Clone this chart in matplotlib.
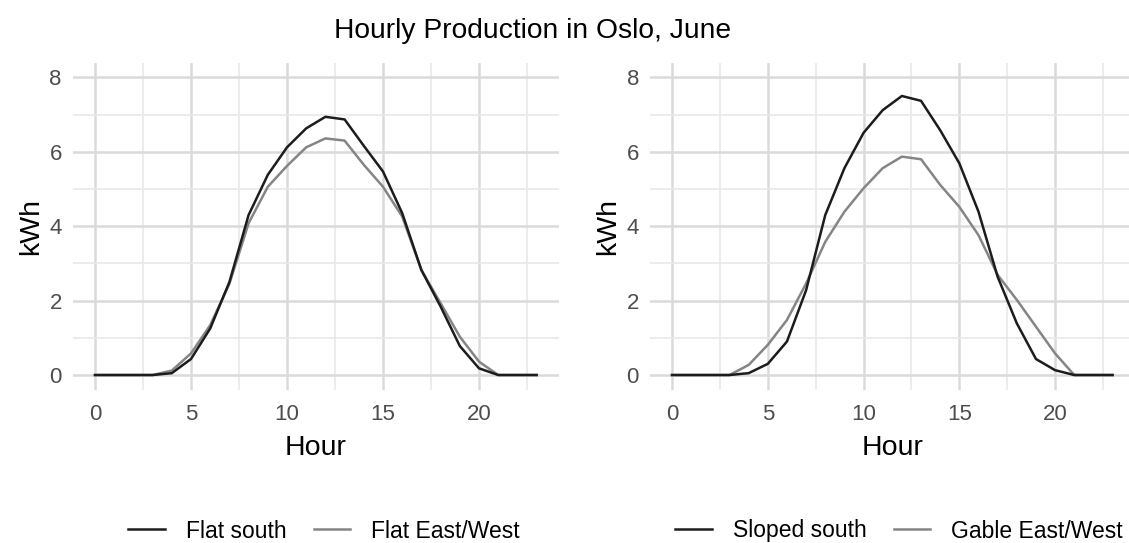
import matplotlib
matplotlib.use('Agg')
import matplotlib.pyplot as plt
from matplotlib.lines import Line2D
import numpy as np

plt.rcParams['font.family'] = ['Liberation Sans', 'DejaVu Sans']

hours = list(range(24))

# left panel: flat roofs
flat_south = [0, 0, 0, 0, 0.05, 0.43, 1.25, 2.5, 4.3, 5.38, 6.12, 6.63, 6.94, 6.87,
              6.16, 5.47, 4.35, 2.82, 1.84, 0.78, 0.18, 0, 0, 0]
flat_ew = [0, 0, 0, 0, 0.12, 0.58, 1.34, 2.45, 4.08, 5.06, 5.62, 6.12, 6.36, 6.3,
           5.65, 5.06, 4.26, 2.82, 1.93, 1.03, 0.36, 0, 0, 0]

# right panel: sloped / gable
sloped_south = [0, 0, 0, 0, 0.05, 0.3, 0.9, 2.28, 4.3, 5.56, 6.51, 7.12, 7.5, 7.37,
                6.58, 5.69, 4.39, 2.64, 1.39, 0.43, 0.13, 0, 0, 0]
gable_ew = [0, 0, 0, 0, 0.27, 0.81, 1.48, 2.46, 3.58, 4.39, 5.02, 5.56, 5.87, 5.8,
            5.11, 4.52, 3.76, 2.69, 2.02, 1.3, 0.58, 0, 0, 0]

title = 'Hourly Production in Oslo, June'
dark = '#1c1c1c'
light = '#858585'

W, H = 1129, 543
fig = plt.figure(figsize=(W / 100, H / 100), dpi=100)


def px_axes(left, right, top, bottom):
    return fig.add_axes([left / W, 1 - bottom / H, (right - left) / W, (bottom - top) / H])


def style_ax(ax):
    for s in ax.spines.values():
        s.set_visible(False)
    ax.set_xlim(-1.15, 24.15)
    ax.set_ylim(-0.4, 8.4)
    ax.set_xticks([0, 5, 10, 15, 20])
    ax.set_xticks([2.5, 7.5, 12.5, 17.5, 22.5], minor=True)
    ax.set_yticks([0, 2, 4, 6, 8])
    ax.set_yticks([1, 3, 5, 7], minor=True)
    ax.grid(True, which='major', color='#dadada', linewidth=1.8)
    ax.grid(True, which='minor', color='#e9e9e9', linewidth=1.2)
    ax.set_axisbelow(True)
    ax.tick_params(which='both', length=0)
    ax.tick_params(axis='x', pad=10, labelsize=16, labelcolor='#4d4d4d')
    ax.tick_params(axis='y', pad=8, labelsize=16, labelcolor='#4d4d4d')
    ax.set_xlabel('Hour', fontsize=20.5, labelpad=7.5)
    ax.set_ylabel('kWh', fontsize=20.5, labelpad=4)


ax1 = px_axes(72.9, 558.7, 62.5, 389.9)
ax2 = px_axes(650, 1134.6, 62.5, 389.9)

panels = [(ax1, flat_south, flat_ew, 'Flat south', 'Flat East/West', 324),
          (ax2, sloped_south, gable_ew, 'Sloped south', 'Gable East/West', 899)]

for ax, s1, s2, l1, l2, cx in panels:
    style_ax(ax)
    ax.plot(hours, s2, color=light, linewidth=1.8)
    ax.plot(hours, s1, color=dark, linewidth=1.8)
    handles = [Line2D([], [], color=dark, linewidth=1.8),
               Line2D([], [], color=light, linewidth=1.8)]
    fig.legend(handles, [l1, l2], loc='center', bbox_to_anchor=(cx / W, 1 - 531 / H),
               ncol=2, frameon=False, fontsize=16.5, handlelength=1.6,
               handletextpad=0.9, columnspacing=1.2)

fig.text(533 / W, 1 - 38.5 / H, title, ha='center', va='baseline', fontsize=20.3)

fig.savefig('out.png', dpi=100)
